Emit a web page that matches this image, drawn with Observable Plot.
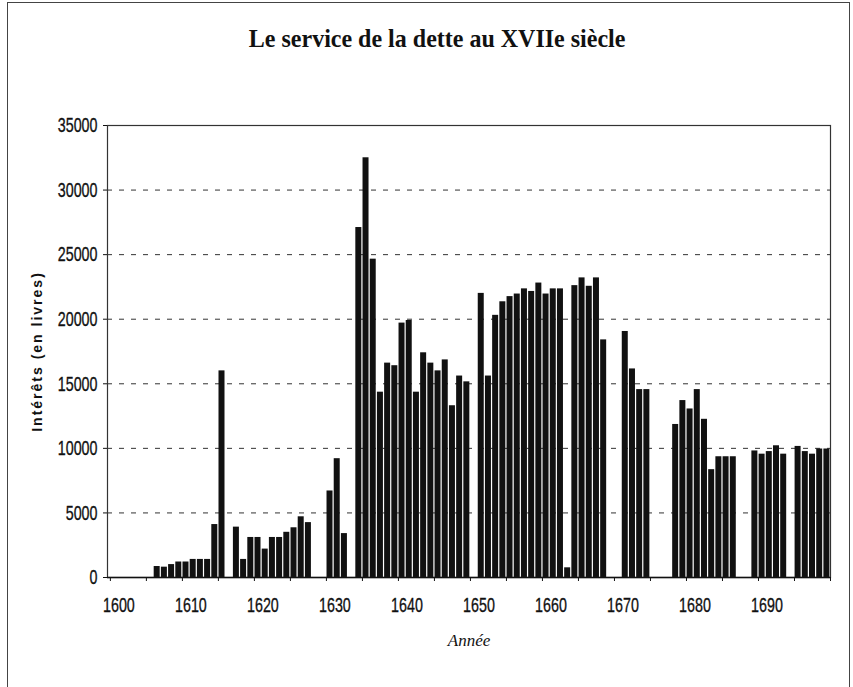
<!DOCTYPE html>
<html>
<head>
<meta charset="utf-8">
<script src="https://cdn.jsdelivr.net/npm/d3@7"></script>
<script src="https://cdn.jsdelivr.net/npm/@observablehq/plot@0.6"></script>
<style>
  html, body { margin: 0; padding: 0; background: #fff; }
  #page { position: relative; width: 853px; height: 687px; overflow: hidden; background: #fff; }
  #border { position: absolute; left: 7px; top: 2px; width: 843px; height: 700px; border: 1px solid #444; box-sizing: border-box; }
  #title { position: absolute; left: 0; top: 25px; width: 875px; text-align: center; font-family: "Liberation Serif", "Times New Roman", serif; font-weight: bold; font-size: 25px; color: #111; }
  #title span { display: inline-block; transform: scaleX(0.96); }
  #chart { position: absolute; left: 0; top: 70px; }
  #chart svg { overflow: visible; }
  g[aria-label="x-axis label"] text { font-family: "Liberation Serif", "Times New Roman", serif; font-style: italic; font-size: 17px; }
  g[aria-label="y-axis label"] text { font-family: "Liberation Sans", Arial, sans-serif; font-weight: bold; font-size: 14px; letter-spacing: 2px; }
  g[aria-label="y-axis tick label"] text, g[aria-label="x-axis tick label"] text { font-family: "Liberation Sans Narrow", "Arial Narrow", "Liberation Sans", sans-serif !important; font-size: 21px !important; stroke: #111; stroke-width: 0.35px; }
</style>
</head>
<body>
<div id="page">
  <div id="border"></div>
  <div id="title"><span>Le service de la dette au XVIIe siècle</span></div>
  <div id="chart"></div>
</div>
<script>
// Years with a recorded value (other years have no bar)
const years = [
  1606, 1607, 1608, 1609, 1610, 1611, 1612, 1613, 1614, 1615,
  1617, 1618, 1619, 1620, 1621, 1622, 1623, 1624, 1625, 1626, 1627,
  1630, 1631, 1632,
  1634, 1635, 1636, 1637, 1638, 1639, 1640, 1641, 1642, 1643, 1644, 1645, 1646, 1647, 1648, 1649,
  1651, 1652, 1653, 1654, 1655, 1656, 1657, 1658, 1659, 1660, 1661, 1662, 1663, 1664, 1665, 1666, 1667, 1668,
  1671, 1672, 1673, 1674,
  1678, 1679, 1680, 1681, 1682, 1683, 1684, 1685, 1686,
  1689, 1690, 1691, 1692, 1693,
  1695, 1696, 1697, 1698, 1699
];
// Intérêts (en livres)
const interets = [
  850, 800, 1000, 1200, 1200, 1400, 1400, 1400, 4100, 16000,
  3900, 1400, 3100, 3100, 2200, 3100, 3100, 3500, 3850, 4700, 4250,
  6700, 9200, 3400,
  27100, 32500, 24650, 14350, 16600, 16400, 19700, 19900, 14350, 17400, 16600, 16000, 16850, 13300, 15600, 15150,
  22000, 15600, 20300, 21350, 21750, 21950, 22350, 22150, 22800, 21950, 22350, 22350, 750, 22600, 23200, 22550, 23200, 18400,
  19050, 16150, 14550, 14550,
  11850, 13700, 13050, 14550, 12250, 8350, 9350, 9350, 9350,
  9800, 9550, 9750, 10200, 9550,
  10150, 9750, 9550, 9950, 9950
];
const xTicks = d3.range(1600, 1701, 5);
const xLabels = [1600, 1610, 1620, 1630, 1640, 1650, 1660, 1670, 1680, 1690];
const yTicks = [0, 5000, 10000, 15000, 20000, 25000, 30000, 35000];
const yGrid = [5000, 10000, 15000, 20000, 25000, 30000];

const data = years.map((y, i) => ({annee: y, valeur: interets[i]}));

const chart = Plot.plot({
  width: 853,
  height: 617,
  marginLeft: 107,
  marginRight: 23,
  marginTop: 55,
  marginBottom: 110,
  style: {color: "#111", background: "transparent"},
  x: {domain: [1599.6, 1700]},
  y: {domain: [0, 35000]},
  marks: [
    Plot.gridY(yGrid, {stroke: "#333", strokeOpacity: 1, strokeDasharray: "5,7"}),
    Plot.rectY(data, {x1: "annee", x2: d => d.annee + 1, y: "valeur", fill: "#111", insetLeft: 0.6, insetRight: 0.6}),
    Plot.frame({stroke: "#333", strokeWidth: 1.2}),
    Plot.axisY(yTicks, {tickSize: 4, tickPadding: 6, stroke: "#111", tickFormat: d => String(d), label: "Intérêts (en livres)", labelAnchor: "center", labelOffset: 75, labelArrow: "none"}),
    Plot.axisX(xTicks, {tickSize: 4, stroke: "#111", tickFormat: () => "", label: null}),
    Plot.axisX(xLabels, {tickSize: 0, tickPadding: 20, dx: 8.5, tickFormat: d => String(d), label: "Année", labelAnchor: "center", labelOffset: 68, labelArrow: "none"}),
    Plot.ruleY([0], {stroke: "#111", strokeWidth: 1.5})
  ]
});
document.getElementById("chart").appendChild(chart);

// Condense the tick labels horizontally, like the narrow font of the original
function squeeze(selector, s) {
  chart.querySelectorAll(selector).forEach(t => {
    const len = t.getComputedTextLength();
    if (len > 0) {
      t.setAttribute("textLength", (len * s).toFixed(2));
      t.setAttribute("lengthAdjust", "spacingAndGlyphs");
    }
  });
}
squeeze('g[aria-label="y-axis tick label"] text', 0.68);
squeeze('g[aria-label="x-axis tick label"] text', 0.68);
</script>
</body>
</html>
